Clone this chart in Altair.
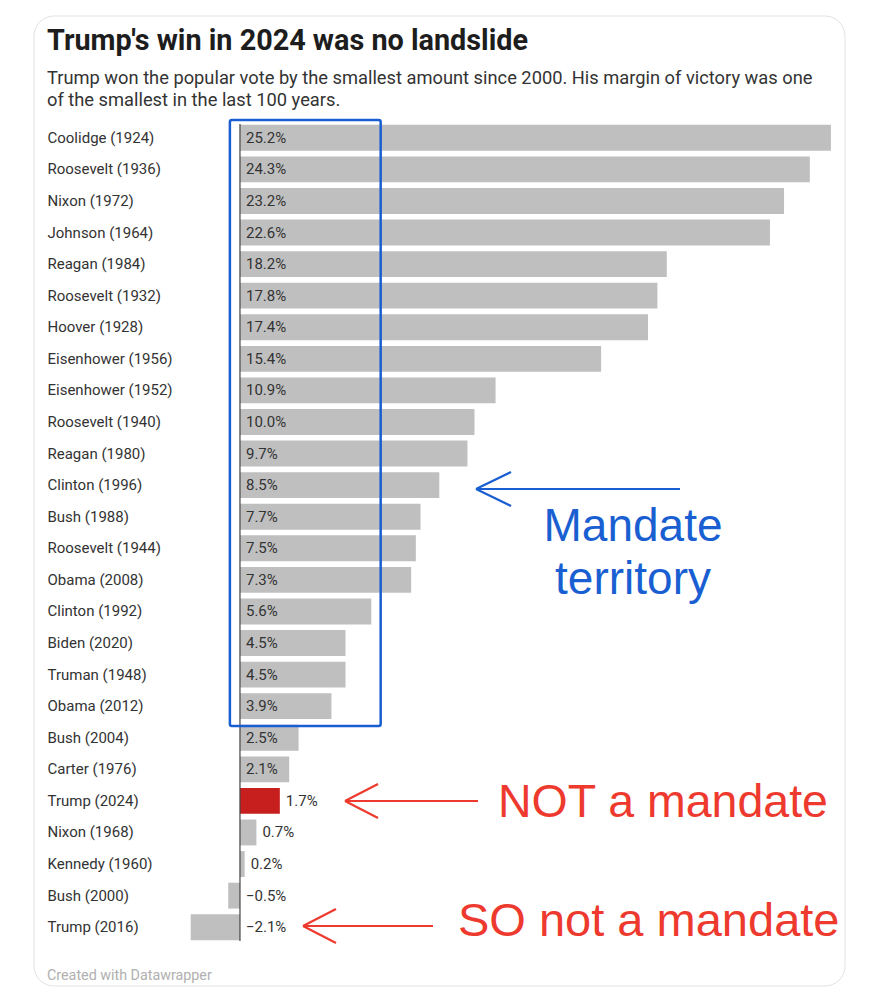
import altair as alt
import pandas as pd

names = ["Coolidge (1924)", "Roosevelt (1936)", "Nixon (1972)", "Johnson (1964)",
         "Reagan (1984)", "Roosevelt (1932)", "Hoover (1928)", "Eisenhower (1956)",
         "Eisenhower (1952)", "Roosevelt (1940)", "Reagan (1980)", "Clinton (1996)",
         "Bush (1988)", "Roosevelt (1944)", "Obama (2008)", "Clinton (1992)",
         "Biden (2020)", "Truman (1948)", "Obama (2012)", "Bush (2004)",
         "Carter (1976)", "Trump (2024)", "Nixon (1968)", "Kennedy (1960)",
         "Bush (2000)", "Trump (2016)"]
values = [25.2, 24.3, 23.2, 22.6, 18.2, 17.8, 17.4, 15.4, 10.9, 10.0, 9.7, 8.5,
          7.7, 7.5, 7.3, 5.6, 4.5, 4.5, 3.9, 2.5, 2.1, 1.7, 0.7, 0.2, -0.5, -2.1]
highlight = "Trump (2024)"

title = "Trump's win in 2024 was no landslide"
subtitle = ["Trump won the popular vote by the smallest amount since 2000. His margin of victory was one",
            "of the smallest in the last 100 years."]
footer = "Created with Datawrapper"

df = pd.DataFrame({"name": names, "value": values})
df["hl"] = ["yes" if n == highlight else "no" for n in names]
df["label"] = [f"{v:.1f}%".replace("-", "\u2212") for v in values]
df["pos"] = [v if 0 < v < 2 else 0 for v in values]

W, H = 666, 821
one = pd.DataFrame({"a": [0]})

xscale = alt.Scale(domain=[-2.6, 25.8], nice=False, zero=False)

card = alt.Chart(one).mark_rect(cornerRadius=20, fill="white", stroke="#e2e2e2",
                                strokeWidth=1).encode(
    x=alt.value(-145), x2=alt.value(666), y=alt.value(-106), y2=alt.value(864))

bars = alt.Chart(df).mark_bar().encode(
    x=alt.X("value:Q", scale=xscale, axis=None),
    y=alt.Y("name:N", sort=names,
            scale=alt.Scale(paddingInner=0.18, paddingOuter=0.09),
            axis=alt.Axis(title=None, domain=False, ticks=False, tickSize=0,
                          labelAlign="left", labelPadding=132, labelFontSize=15,
                          labelFont="Roboto", labelColor="#333333", labelLimit=0,
                          grid=False, zindex=1)),
    color=alt.Color("hl:N", scale=alt.Scale(domain=["no", "yes"],
                                            range=["#bfbfbf", "#c71f1d"]), legend=None),
)

zero = alt.Chart(one).mark_rule(color="#444444", strokeWidth=1.2).encode(
    x=alt.datum(0), y=alt.value(2), y2=alt.value(819))

vlabels = alt.Chart(df).mark_text(align="left", baseline="middle", dx=6, fontSize=15,
                                  font="Roboto", color="#333333").encode(
    x=alt.X("pos:Q", scale=xscale), y=alt.Y("name:N", sort=names), text="label:N")

blue = "#1a5fd2"
red = "#ee3a2e"

box = alt.Chart(one).mark_rect(fillOpacity=0, stroke=blue, strokeWidth=2.5,
                               cornerRadius=2).encode(
    x=alt.datum(-0.43), x2=alt.datum(6.0), y=alt.value(-2), y2=alt.value(604))

# annotation arrows (pixel coordinates, plot origin at page 179,122)
ox, oy = 179, 122
segments = [
    (476, 489, 680, 489, blue), (476, 489, 511, 472, blue), (476, 489, 511, 506, blue),
    (345, 801, 478, 801, red), (345, 801, 378, 784, red), (345, 801, 378, 818, red),
    (303, 926, 433, 926, red), (303, 926, 336, 909, red), (303, 926, 336, 943, red),
]
arrows = []
for x1, y1, x2, y2, c in segments:
    arrows.append(alt.Chart(one).mark_rule(color=c, strokeWidth=2.2).encode(
        x=alt.value(x1 - ox), y=alt.value(y1 - oy),
        x2=alt.value(x2 - ox), y2=alt.value(y2 - oy)))

texts = []
def txt(s, x, y, size, color, weight="normal", align="left", font="Roboto"):
    texts.append(alt.Chart(one).mark_text(text=s, align=align, baseline="alphabetic",
                                          fontSize=size, fontWeight=weight, color=color,
                                          font=font).encode(
        x=alt.value(x - ox), y=alt.value(y - oy)))

txt(title, 47, 50, 28.8, "#1d1d1d", weight="bold")
txt(subtitle[0], 47, 84, 18.3, "#333333")
txt(subtitle[1], 47, 106, 18.3, "#333333")
txt(footer, 47, 980, 14.3, "#b0b0b0")
txt("Mandate", 633, 541, 46, blue, align="center", font="Liberation Sans")
txt("territory", 633, 594, 46, blue, align="center", font="Liberation Sans")
txt("NOT a mandate", 498, 817, 46.5, red, font="Liberation Sans")
txt("SO not a mandate", 458, 936, 47, red, font="Liberation Sans")

chart = alt.layer(card, bars, zero, vlabels, box, *arrows, *texts).properties(
    width=W, height=H,
    autosize=alt.AutoSizeParams(type="none"),
    padding={"left": 171, "top": 114, "right": 25, "bottom": 49},
).configure_view(stroke=None)

chart.save("out.html", embed_options={"renderer": "svg", "actions": False})
